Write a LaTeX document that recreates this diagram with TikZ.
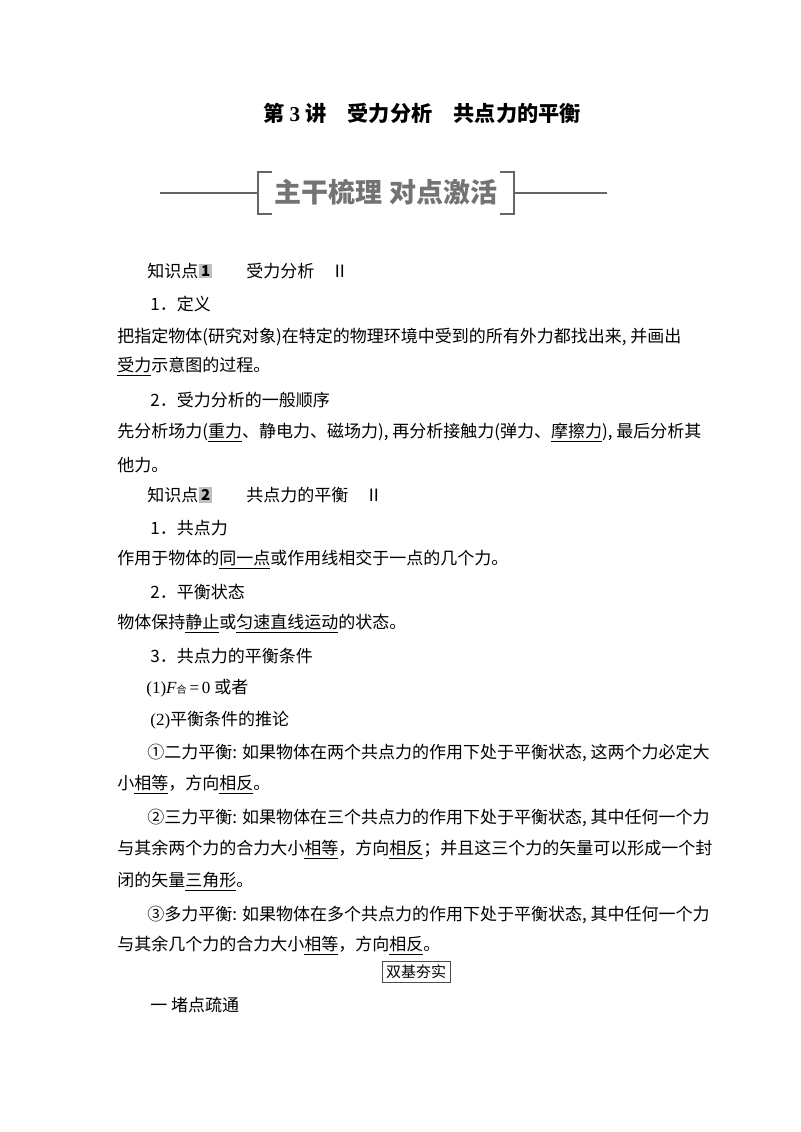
\documentclass[tikz,border=0pt]{standalone}
\usepackage{fontspec}
\setmainfont{Noto Sans CJK SC}
\newfontfamily\serifnum{Liberation Serif}
\begin{document}
\begin{tikzpicture}[x=0.5pt,y=-0.5pt,
  tl/.style={anchor=west,inner sep=0pt,font=\fontsize{8.5}{9}\selectfont},
  badge/.style={fill=black!25,inner sep=1pt,font=\fontsize{7.5}{8}\selectfont\bfseries},
  rule/.style={draw=black!60,line width=0.6pt}]
\useasboundingbox (0,0) rectangle (800,1132);
\node[inner sep=0pt,font=\fontsize{10.6}{11}\selectfont\bfseries] (title) at (422,113) {第{\serifnum\ 3 }讲\quad 受力分析\quad 共点力的平衡};
% banner
\node[inner sep=0pt,text=black!55,font=\fontsize{13.5}{14}\selectfont\bfseries] (ban) at (386,192) {主干梳理 对点激活};
\draw[rule] (160,193) -- (258,193);
\draw[rule] (272,172) -- (258,172) -- (258,214) -- (272,214);
\draw[rule] (500,172) -- (514,172) -- (514,214) -- (500,214);
\draw[rule] (514,193) -- (607,193);
% KP1
\node[tl] (k1) at (147,271) {知识点};
\node[badge,anchor=west] (b1) at (k1.east) {1};
\node[tl] (k1t) at (246,271) {受力分析\quad Ⅱ};
\node[tl] (a1) at (150,304) {1．定义};
\node[tl] (a2) at (117,337) {把指定物体(研究对象)在特定的物理环境中受到的所有外力都找出来, 并画出};
\node[tl] (a3) at (117,367) {\underline{受力}示意图的过程。};
\node[tl] (a4) at (150,400) {2．受力分析的一般顺序};
\node[tl] (a5) at (117,433) {先分析场力(\underline{重力}、静电力、磁场力), 再分析接触力(弹力、\underline{摩擦力}), 最后分析其};
\node[tl] (a6) at (117,465) {他力。};
% KP2
\node[tl] (k2) at (147,495) {知识点};
\node[badge,anchor=west] (b2) at (k2.east) {2};
\node[tl] (k2t) at (246,495) {共点力的平衡\quad Ⅱ};
\node[tl] (c1) at (150,528) {1．共点力};
\node[tl] (c2) at (117,560) {作用于物体的\underline{同一点}或作用线相交于一点的几个力。};
\node[tl] (c3) at (150,592) {2．平衡状态};
\node[tl] (c4) at (117,624) {物体保持\underline{静止}或\underline{匀速直线运动}的状态。};
\node[tl] (c5) at (150,656) {3．共点力的平衡条件};
\node[tl] (c6) at (146,688) {{\serifnum (1)\textit{F}}{\fontsize{5}{5}\selectfont 合}{\serifnum \,=\,0} 或者};
\node[tl] (c7) at (150,720) {{\serifnum (2)}平衡条件的推论};
\node[tl] (c8) at (147,753) {①二力平衡: 如果物体在两个共点力的作用下处于平衡状态, 这两个力必定大};
\node[tl] (c9) at (117,785) {小\underline{相等}，方向\underline{相反}。};
\node[tl] (c10) at (147,818) {②三力平衡: 如果物体在三个共点力的作用下处于平衡状态, 其中任何一个力};
\node[tl] (c11) at (117,850) {与其余两个力的合力大小\underline{相等}，方向\underline{相反}；并且这三个力的矢量可以形成一个封};
\node[tl] (c12) at (117,882) {闭的矢量\underline{三角形}。};
\node[tl] (c13) at (147,915) {③多力平衡: 如果物体在多个共点力的作用下处于平衡状态, 其中任何一个力};
\node[tl] (c14) at (117,946) {与其余几个力的合力大小\underline{相等}，方向\underline{相反}。};
\node[draw=black!70,line width=0.5pt,inner sep=2pt,font=\fontsize{7.5}{8}\selectfont] (sj) at (416,972) {双基夯实};
\node[tl] (d1) at (150,1005) {一 堵点疏通};
\end{tikzpicture}
\end{document}
